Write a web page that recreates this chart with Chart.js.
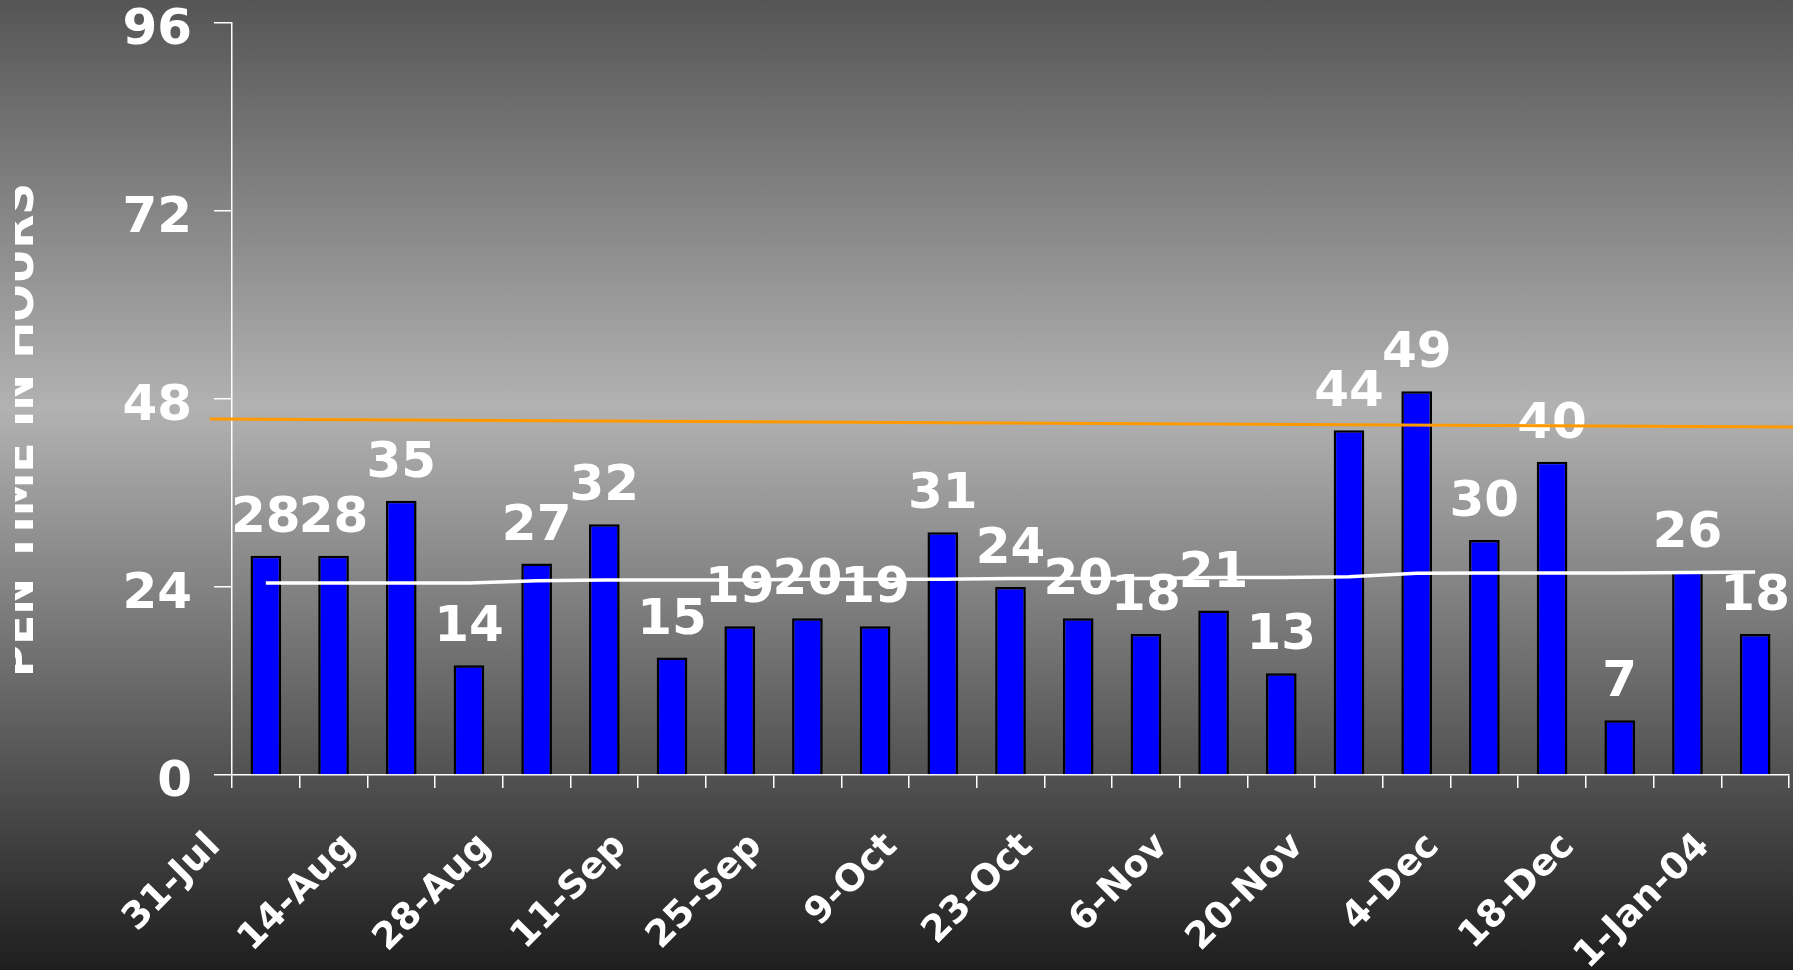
<!DOCTYPE html>
<html>
<head>
<meta charset="utf-8">
<script src="https://cdn.jsdelivr.net/npm/chart.js@4.4.0/dist/chart.umd.min.js"></script>
<style>
    html, body { margin: 0; padding: 0; }
    body {
        width: 1793px;
        height: 970px;
        overflow: hidden;
        background: linear-gradient(to bottom, #555555 0%, #b2b2b2 42%, #1e1e1e 100%);
    }
    .chart-box { position: relative; width: 1793px; height: 970px; }
</style>
</head>
<body>
<div class="chart-box"><canvas id="open-chart"></canvas></div>
<script>
// weekly categories (only every second one gets a label)
const weeks = ["31-Jul", "7-Aug", "14-Aug", "21-Aug", "28-Aug", "4-Sep", "11-Sep", "18-Sep", "25-Sep", "2-Oct", "9-Oct", "16-Oct",
    "23-Oct", "30-Oct", "6-Nov", "13-Nov", "20-Nov", "27-Nov", "4-Dec", "11-Dec", "18-Dec", "25-Dec", "1-Jan-04"];
const openHours = [28, 28, 35, 14, 27, 32, 15, 19, 20, 19, 31, 24, 20, 18, 21, 13, 44, 49, 30, 40, 7, 26, 18];
const averageHours = [24.5, 24.5, 24.5, 24.5, 24.8, 24.9, 24.9, 24.9, 25.0, 25.0, 25.0, 25.1, 25.1, 25.1, 25.2, 25.2, 25.3, 25.75, 25.8, 25.8, 25.8, 25.85, 25.9];
// orange reference line, x in category units (it runs past the axis on the left)
const targetX = [-0.83, 22.56];
const targetHours = [45.45, 44.43];
const yTicks = [0, 24, 48, 72, 96];
const yTitle = "PEN TIME IN HOURS";

Chart.defaults.color = "#ffffff";
Chart.defaults.font.family = "'DejaVu Sans', Verdana, sans-serif";
Chart.defaults.font.weight = "bold";

// value labels over the bars
const barLabelPlugin = {
    id: "barLabels",
    afterDatasetDraw(chart, args) {
        if (args.index !== 0) return;
        const { ctx } = chart;
        ctx.save();
        ctx.fillStyle = "#ffffff";
        ctx.font = "bold 50px 'DejaVu Sans'";
        ctx.textAlign = "center";
        ctx.textBaseline = "alphabetic";
        args.meta.data.forEach((bar, i) => {
            ctx.fillText(String(openHours[i]), bar.x, bar.y - 24);
        });
        ctx.restore();
    },
};

// y title, clipped on the left like the original
const yTitlePlugin = {
    id: "yTitle",
    afterDraw(chart) {
        const { ctx } = chart;
        ctx.save();
        ctx.beginPath();
        ctx.rect(15, 0, 300, chart.height);
        ctx.clip();
        ctx.translate(33, 430);
        ctx.rotate(-Math.PI / 2);
        ctx.font = "bold 44px 'DejaVu Sans'";
        ctx.fillStyle = "#ffffff";
        ctx.textAlign = "center";
        ctx.textBaseline = "alphabetic";
        ctx.fillText(yTitle, 0, 0);
        ctx.restore();
    },
};

new Chart(document.getElementById("open-chart"), {
    type: "bar",
    data: {
        labels: weeks,
        datasets: [
            {
                type: "bar",
                data: openHours,
                backgroundColor: "#0000ff",
                borderColor: "#000000",
                borderWidth: 2.5,
                grouped: false,
                barPercentage: 0.453,
                categoryPercentage: 1,
                order: 2,
            },
            {
                type: "line",
                data: averageHours,
                borderColor: "#ffffff",
                borderWidth: 3.5,
                pointRadius: 0,
                tension: 0,
                order: 1,
            },
            {
                type: "line",
                data: targetX.map((x, i) => ({ x: x, y: targetHours[i] })),
                xAxisID: "xl",
                borderColor: "#ff9900",
                borderWidth: 3,
                pointRadius: 0,
                clip: false,
                order: 0,
            },
        ],
    },
    options: {
        responsive: true,
        maintainAspectRatio: false,
        animation: false,
        layout: { padding: { left: 0, top: 23, right: 4, bottom: 0 } },
        plugins: {
            legend: { display: false },
            tooltip: { enabled: false },
        },
        scales: {
            x: {
                grid: { display: true, offset: true, drawOnChartArea: false, tickLength: 13, color: "#ffffff", lineWidth: 1.5 },
                border: { display: true, color: "#ffffff", width: 1.5 },
                ticks: {
                    autoSkip: false,
                    minRotation: 45,
                    maxRotation: 45,
                    padding: 37,
                    labelOffset: -51,
                    color: "#ffffff",
                    font: { size: 37, weight: "bold" },
                    callback: function (value, index) {
                        return index % 2 === 0 ? weeks[index] : "";
                    },
                },
                afterFit(scale) {
                    scale.height = 195;
                    scale.paddingLeft = 0;
                    scale.paddingRight = 0;
                },
            },
            xl: {
                type: "linear",
                display: false,
                min: -0.5,
                max: 22.5,
                offset: false,
            },
            y: {
                min: 0,
                max: 96,
                afterBuildTicks(scale) {
                    scale.ticks = yTicks.map((v) => ({ value: v }));
                },
                grid: { drawOnChartArea: false, tickLength: 18, color: "#ffffff", lineWidth: 1.5 },
                border: { display: true, color: "#ffffff", width: 1.5 },
                ticks: {
                    padding: 22,
                    labelOffset: 8,
                    color: "#ffffff",
                    font: { size: 50, weight: "bold" },
                },
                afterFit(scale) {
                    scale.width = 232;
                    scale.paddingTop = 0;
                    scale.paddingBottom = 0;
                },
            },
        },
    },
    plugins: [barLabelPlugin, yTitlePlugin],
});
</script>
</body>
</html>
